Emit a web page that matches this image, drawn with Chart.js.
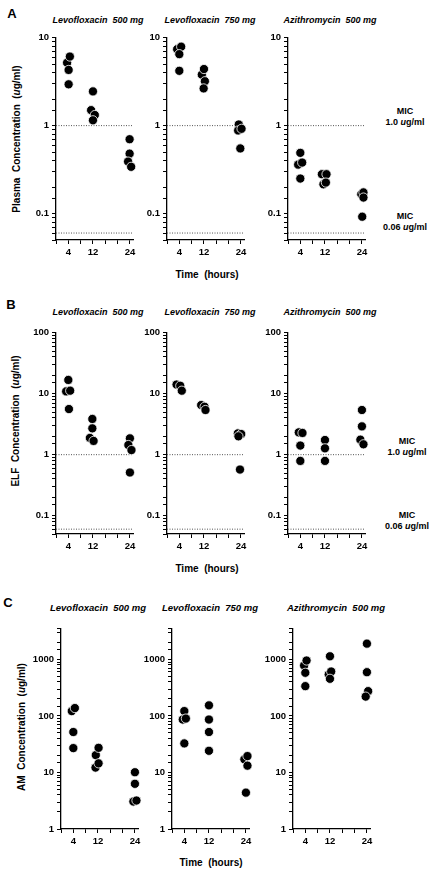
<!DOCTYPE html>
<html>
<head>
<meta charset="utf-8">
<script src="https://cdn.jsdelivr.net/npm/chart.js@4.4.0/dist/chart.umd.min.js"></script>
<style>
  body { margin:0; background:#fff; width:437px; height:872px; position:relative; overflow:hidden;
         font-family:"Liberation Sans", Arial, sans-serif; color:#000; }
  canvas { position:absolute; }
  .t { position:absolute; transform:translate(-50%,-50%); white-space:pre; font-weight:bold; line-height:1; }
  .ttl { font-style:italic; font-size:9px; }
  .let { font-size:13px; }
  .ax { font-size:10px; }
  .mic { font-size:9px; text-align:center; line-height:11px; }
  .yt { font-size:10px; transform:translate(-50%,-50%) rotate(-90deg); }
</style>
</head>
<body>

<div class="t let" style="left:12px;top:13px">A</div>
<div class="t let" style="left:11px;top:304px">B</div>
<div class="t let" style="left:8px;top:602px">C</div>

<div class="t ttl" style="left:98px;top:20px">Levofloxacin  500 mg</div>
<div class="t ttl" style="left:210px;top:20px">Levofloxacin  750 mg</div>
<div class="t ttl" style="left:330px;top:20px">Azithromycin  500 mg</div>
<div class="t ttl" style="left:98px;top:312px">Levofloxacin  500 mg</div>
<div class="t ttl" style="left:210px;top:312px">Levofloxacin  750 mg</div>
<div class="t ttl" style="left:330px;top:312px">Azithromycin  500 mg</div>
<div class="t ttl" style="left:98px;top:608px;font-size:9.5px">Levofloxacin  500 mg</div>
<div class="t ttl" style="left:210px;top:608px;font-size:9.5px">Levofloxacin  750 mg</div>
<div class="t ttl" style="left:336px;top:608px;font-size:9.5px">Azithromycin  500 mg</div>

<div class="t yt" style="left:17px;top:139px">Plasma  Concentration  (<i>u</i>g/ml)</div>
<div class="t yt" style="left:16px;top:421px">ELF  Concentration  (<i>u</i>g/ml)</div>
<div class="t yt" style="left:22px;top:727px">AM  Concentration  (<i>u</i>g/ml)</div>

<div class="t ax" style="left:207px;top:275px">Time  (hours)</div>
<div class="t ax" style="left:207px;top:569px">Time  (hours)</div>
<div class="t ax" style="left:211px;top:863px">Time  (hours)</div>

<div class="t mic" style="left:405px;top:117px">MIC<br>1.0 <i>u</i>g/ml</div>
<div class="t mic" style="left:405px;top:222px">MIC<br>0.06 <i>u</i>g/ml</div>
<div class="t mic" style="left:407px;top:447px">MIC<br>1.0 <i>u</i>g/ml</div>
<div class="t mic" style="left:407px;top:521px">MIC<br>0.06 <i>u</i>g/ml</div>

<script>
  Chart.defaults.font.family = '"Liberation Sans", Arial, sans-serif';
  Chart.defaults.color = '#000';

  // x axis (hours)
  var hourTicks = [0, 4, 8, 12, 16, 20, 24];
  var hourLabels = [4, 12, 24];
  var micLevels = [1.0, 0.06];

  // A - plasma (ug/ml)
  var plasmaL500Time = [3.6, 4.5, 4.1, 4.1, 12, 11.4, 12.6, 12, 23.9, 23.9, 23.4, 24.4];
  var plasmaL500 = [5.2, 6.1, 4.3, 2.95, 2.45, 1.5, 1.32, 1.15, 0.70, 0.48, 0.39, 0.34];
  var plasmaL750Time = [3.3, 4.6, 4, 4, 11.3, 12, 12.3, 11.9, 23.3, 23.1, 24.2, 23.8];
  var plasmaL750 = [7.4, 7.9, 6.5, 4.2, 3.8, 4.4, 3.2, 2.65, 1.03, 0.88, 0.92, 0.55];
  var plasmaAziTime = [4, 3.3, 4.6, 4, 11, 12.5, 11.5, 12.3, 23.8, 24.5, 24.5, 24.1];
  var plasmaAzi = [0.49, 0.36, 0.38, 0.25, 0.28, 0.28, 0.215, 0.225, 0.166, 0.174, 0.152, 0.092];

  // B - epithelial lining fluid (ug/ml)
  var elfL500Time = [4, 3.3, 4.6, 4.2, 11.8, 11.8, 11, 12.2, 24, 23.5, 24.5, 24];
  var elfL500 = [16.8, 10.9, 11.2, 5.6, 3.85, 2.7, 1.88, 1.68, 1.85, 1.44, 1.19, 0.51];
  var elfL750Time = [3.1, 4.3, 4.8, 11.1, 12.2, 12.5, 23, 24.1, 23.2, 23.7];
  var elfL750 = [14.1, 13.5, 11.2, 6.5, 6.1, 5.4, 2.23, 2.18, 2.0, 0.57];
  var elfAziTime = [3.5, 4.7, 4, 4, 12, 12, 12, 24, 24, 23.5, 24.5];
  var elfAzi = [2.32, 2.27, 1.41, 0.79, 1.74, 1.27, 0.79, 5.4, 2.91, 1.76, 1.48];

  // C - alveolar macrophages (ug/ml)
  var amL500Time = [3.5, 4.5, 4, 4, 11.3, 12.2, 11.2, 12.2, 24, 24, 23.5, 24.5];
  var amL500 = [122, 138, 52, 27, 20.3, 27.3, 12.2, 14.5, 10.1, 6.3, 3.06, 3.19];
  var amL750Time = [4, 3.5, 4.5, 4, 12, 12, 12, 12, 23.5, 24.5, 24.5, 24];
  var amL750 = [122, 86.5, 90, 32.7, 154, 86.5, 52, 24.2, 17.1, 19.5, 13.2, 4.4];
  var amAziTime = [3.6, 4.4, 4, 4, 12, 11.6, 12.4, 12, 24, 24, 24.4, 23.6];
  var amAzi = [781, 957, 581, 337, 1138, 542, 612, 455, 1905, 595, 275, 220];

  function toPoints(t, v) {
    return t.map(function (x, i) { return { x: x, y: v[i] }; });
  }

  function decadeLabel(value) {
    var l = Math.log10(value);
    if (Math.abs(l - Math.round(l)) > 1e-6) return '';
    return String(Number(value.toPrecision(3)));
  }

  // axisX / plot top / plot bottom are pixel positions on the page
  function panel(axisX, plotTop, plotBottom, ymin, ymax, times, values, showMic, fontSize) {
    var padL = 34, padT = 8, padR = 10, xH = 26, plotW = 77;
    var c = document.createElement('canvas');
    c.width = padL + plotW + padR;
    c.height = padT + (plotBottom - plotTop) + xH;
    c.style.left = (axisX - padL) + 'px';
    c.style.top = (plotTop - padT) + 'px';
    document.body.appendChild(c);

    var ds = [{
      type: 'scatter',
      data: toPoints(times, values),
      backgroundColor: '#000',
      borderColor: '#fff',
      borderWidth: 0.8,
      pointRadius: 4.6,
      clip: false,
      order: 1
    }];
    if (showMic) {
      micLevels.forEach(function (m) {
        ds.push({
          type: 'line',
          data: [{ x: 0, y: m }, { x: 25, y: m }],
          borderColor: '#555',
          borderWidth: 1,
          borderDash: [1, 1.5],
          pointRadius: 0,
          order: 2
        });
      });
    }

    new Chart(c.getContext('2d'), {
      type: 'scatter',
      data: { datasets: ds },
      options: {
        responsive: false,
        animation: false,
        events: [],
        layout: { padding: { top: padT, right: padR, left: 0, bottom: 0 } },
        plugins: { legend: { display: false }, tooltip: { enabled: false } },
        scales: {
          x: {
            type: 'linear', min: 0, max: 25,
            afterBuildTicks: function (s) { s.ticks = hourTicks.map(function (v) { return { value: v }; }); },
            afterFit: function (s) { s.height = xH; },
            grid: { display: true, drawOnChartArea: false, tickLength: 4, color: '#000', lineWidth: 1 },
            border: { display: true, color: '#000', width: 1.3 },
            ticks: {
              autoSkip: false, maxRotation: 0, padding: 3,
              font: { size: fontSize, weight: 'bold' },
              callback: function (v) { return hourLabels.indexOf(v) >= 0 ? String(v) : ''; }
            }
          },
          y: {
            type: 'logarithmic', min: ymin, max: ymax,
            afterFit: function (s) { s.width = padL; },
            grid: { display: true, drawOnChartArea: false, tickLength: 4, color: '#000', lineWidth: 1 },
            border: { display: true, color: '#000', width: 1.3 },
            ticks: {
              autoSkip: false, padding: 3,
              font: { size: fontSize, weight: 'bold' },
              callback: decadeLabel
            }
          }
        }
      }
    });
  }

  // row A
  panel(56, 37, 240, 0.05, 10, plasmaL500Time, plasmaL500, true, 9.5);
  panel(167, 37, 240, 0.05, 10, plasmaL750Time, plasmaL750, true, 9.5);
  panel(288, 37, 240, 0.05, 10, plasmaAziTime, plasmaAzi, true, 9.5);
  // row B
  panel(56, 332, 534, 0.05, 100, elfL500Time, elfL500, true, 9.5);
  panel(167, 332, 534, 0.05, 100, elfL750Time, elfL750, true, 9.5);
  panel(288, 332, 534, 0.05, 100, elfAziTime, elfAzi, true, 9.5);
  // row C
  panel(61, 628, 829, 1, 3500, amL500Time, amL500, false, 9.5);
  panel(172, 628, 829, 1, 3500, amL750Time, amL750, false, 9.5);
  panel(293, 628, 829, 1, 3500, amAziTime, amAzi, false, 9.5);
</script>
</body>
</html>
